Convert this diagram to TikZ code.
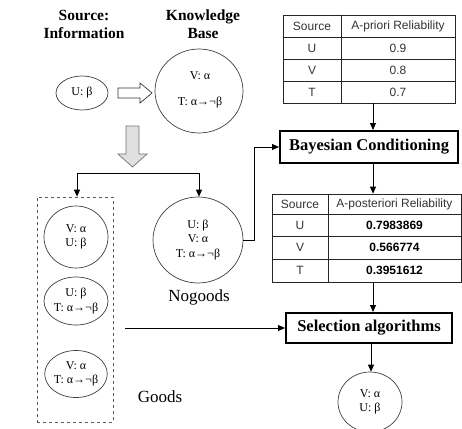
\documentclass[tikz,border=0pt]{standalone}
\usepackage{fontspec}
\setmainfont{Liberation Serif}
\setsansfont{Liberation Sans}
\usetikzlibrary{arrows.meta,shapes.geometric}
\begin{document}
\begin{tikzpicture}[x=1pt,y=-1pt,
  ell/.style={draw=black!75, ellipse, inner sep=0pt, line width=0.7pt, align=center,
     font=\fontsize{12}{14.5}\selectfont},
  arr/.style={-{Triangle[width=6pt,length=7pt]}, line width=0.8pt},
  heading/.style={font=\bfseries\fontsize{15.5}{18}\selectfont, align=center},
  label/.style={font=\fontsize{17}{19}\selectfont},
  procbox/.style={draw, line width=2pt, inner sep=0pt, font=\bfseries\fontsize{16.5}{18}\selectfont},
  tab/.style={draw=black!85, line width=0.7pt, inner sep=0pt},
  cell/.style={font=\sffamily\fontsize{12}{14}\selectfont, text=black!80, inner sep=0pt},
  bcell/.style={font=\sffamily\bfseries\fontsize{12}{14}\selectfont, inner sep=0pt},
  ctext/.style={font=\fontsize{12}{14}\selectfont, inner sep=0pt}
]
\useasboundingbox[fill=white] (0,0) rectangle (462,428);

% headings
\node[heading] (hsrc) at (84,24) {Source:\\Information};
\node[heading] (hkb) at (203,24) {Knowledge\\Base};

% source information
\node[ell, minimum width=52pt, minimum height=34pt] (src) at (82,93) {U: β};
% hollow arrow
\draw[line width=0.7pt, black!80] (118,88) -- (140,88) -- (140,83) -- (152,93) -- (140,103) -- (140,98) -- (118,98) -- cycle;
% knowledge base
\node[ell, minimum width=88pt, minimum height=84pt] (kb) at (199,91) {};
\node[ctext] (kb1) at (200,76) {V: α};
\node[ctext] (kb2) at (200,103) {T: α→¬β};

% gray down arrow
\draw[fill=black!12, draw=black!55, line width=0.7pt] (126,126) -- (139,126) -- (139,154) -- (147,154) -- (132.5,167) -- (118,154) -- (126,154) -- cycle;

% goods box
\node[draw=black!65, dashed, line width=0.7pt, minimum width=76pt, minimum height=225pt, inner sep=0pt] (goods) at (75,309.5) {};
\node[ell, minimum width=64pt, minimum height=62pt] (g1) at (76,237) {V: α\\U: β};
\node[ell, minimum width=64pt, minimum height=48pt] (g2) at (76,301) {U: β\\T: α→¬β};
\node[ell, minimum width=62pt, minimum height=47pt] (g3) at (76,374) {V: α\\T: α→¬β};

% nogoods
\node[ell, minimum width=90pt, minimum height=86pt] (nog) at (198,240) {U: β\\V: α\\T: α→¬β};
\node[label] (nogl) at (199,297) {Nogoods};
\node[label] (goodl) at (160,397) {Goods};

% branch
\draw[line width=0.8pt] (77,173) -- (199,173);
\draw[arr] (77,173) -- (goods.north -| 77,0);
\draw[arr] (199,173) -- (nog.north -| 199,0);

% table 1
\node[tab, minimum width=172pt, minimum height=88pt] (t1) at (369,59) {};
\draw[black!85, line width=0.7pt] (283,37) -- (455,37) (283,59) -- (455,59) (283,81) -- (455,81) (341,15) -- (341,103);
\node[cell] (t1a) at (312,26) {Source};
\node[cell] (t1b) at (398,26) {A-priori Reliability};
\node[cell] (t1c) at (312,48) {U};
\node[cell] (t1d) at (398,48) {0.9};
\node[cell] (t1e) at (312,70) {V};
\node[cell] (t1f) at (398,70) {0.8};
\node[cell] (t1g) at (312,92) {T};
\node[cell] (t1h) at (398,92) {0.7};

% bayesian
\node[procbox, minimum width=178pt, minimum height=32pt] (bay) at (369,147) {Bayesian Conditioning};

% table 2
\node[tab, minimum width=189pt, minimum height=88pt] (t2) at (366.5,238) {};
\draw[black!85, line width=0.7pt] (272,214) -- (461,214) (272,236) -- (461,236) (272,259) -- (461,259) (328,194) -- (328,282);
\node[cell] (t2a) at (300,204) {Source};
\node[cell] (t2b) at (394.5,204) {A-posteriori Reliability};
\node[cell] (t2c) at (300,225) {U};
\node[bcell] (t2d) at (394.5,225) {0.7983869};
\node[cell] (t2e) at (300,247.5) {V};
\node[bcell] (t2f) at (394.5,247.5) {0.566774};
\node[cell] (t2g) at (300,270.5) {T};
\node[bcell] (t2h) at (394.5,270.5) {0.3951612};

% selection
\node[procbox, minimum width=166pt, minimum height=30pt] (sel) at (369,328) {Selection algorithms};
\node[ell, minimum width=64pt, minimum height=60pt] (res) at (370,402) {V: α\\U: β};

% connectors
\draw[arr] (t1.south -| 373,0) -- (bay.north -| 373,0);
\draw[arr] (bay.south -| 373,0) -- (t2.north -| 373,0);
\draw[arr] (t2.south -| 373,0) -- (sel.north -| 373,0);
\draw[arr] (sel.south -| 371,0) -- (res.north -| 371,0);
\draw[arr] (nog.east) -- (254,240) |- (bay.west);
\draw[arr] ([xshift=12pt]goods.east |- sel.west) -- (sel.west);
\end{tikzpicture}
\end{document}
